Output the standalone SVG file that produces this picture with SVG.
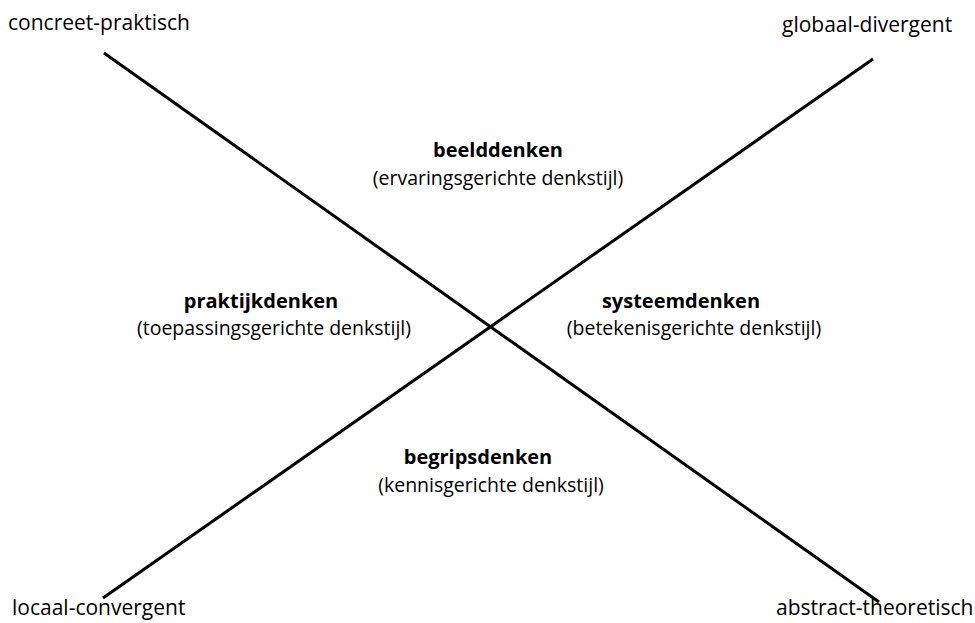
<svg xmlns="http://www.w3.org/2000/svg" width="975" height="623" viewBox="0 0 975 623">
<style>
text{font-family:"Open Sans","Liberation Sans",sans-serif;fill:#000}
.corner{font-size:21px}
.t{font-size:20px;font-weight:bold;text-anchor:middle}
.s{font-size:19.5px;text-anchor:middle}
.ln{stroke:#000;stroke-width:3;fill:none;stroke-linecap:butt}
</style>
<rect width="975" height="623" fill="#fff"/>
<g id="connectors">
<line class="ln" x1="104" y1="53" x2="879" y2="602"/>
<line class="ln" x1="103" y1="598" x2="873" y2="59"/>
</g>
<g id="concreet-praktisch"><text class="corner" x="8" y="30">concreet-praktisch</text></g>
<g id="globaal-divergent"><text class="corner" x="782" y="32">globaal-divergent</text></g>
<g id="locaal-convergent"><text class="corner" x="12" y="615">locaal-convergent</text></g>
<g id="abstract-theoretisch"><text class="corner" x="776" y="615">abstract-theoretisch</text></g>
<g id="beelddenken"><text class="t" x="498" y="157">beelddenken</text><text class="s" x="498" y="185">(ervaringsgerichte denkstijl)</text></g>
<g id="praktijkdenken"><text class="t" x="261" y="308">praktijkdenken</text><text class="s" x="274" y="335">(toepassingsgerichte denkstijl)</text></g>
<g id="systeemdenken"><text class="t" x="681" y="308">systeemdenken</text><text class="s" x="694" y="335">(betekenisgerichte denkstijl)</text></g>
<g id="begripsdenken"><text class="t" x="478" y="464">begripsdenken</text><text class="s" x="491" y="492">(kennisgerichte denkstijl)</text></g>
</svg>
